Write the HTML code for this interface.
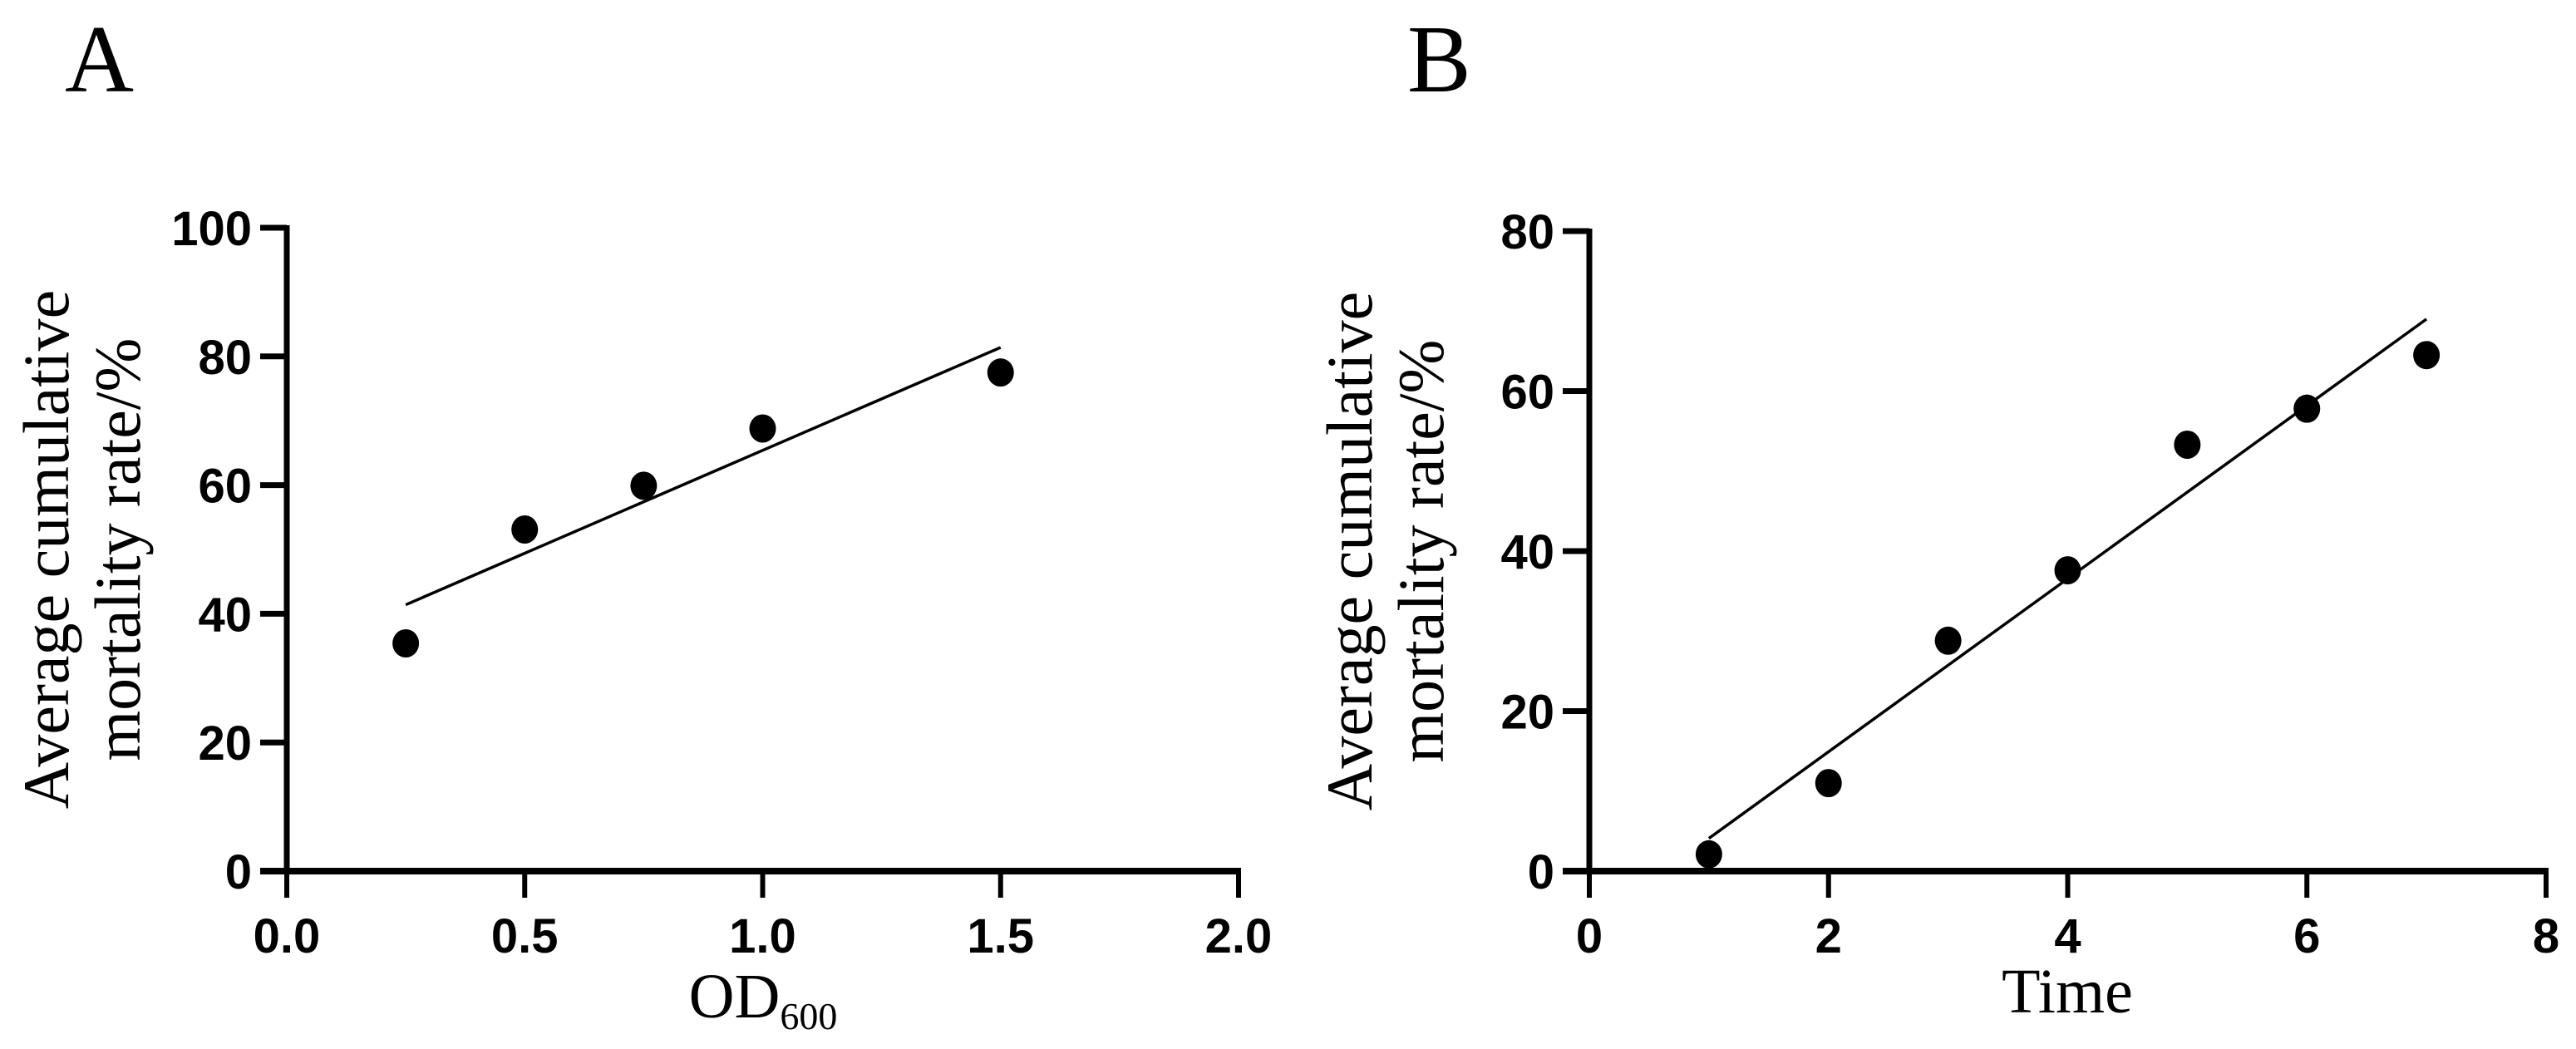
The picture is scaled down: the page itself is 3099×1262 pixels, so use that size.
<!DOCTYPE html>
<html><head><meta charset="utf-8">
<style>
html,body{margin:0;padding:0;background:#fff;}
svg{display:block;}
.tick{font-family:"Liberation Sans",sans-serif;font-weight:bold;font-size:58px;fill:#000;}
.serif{font-family:"Liberation Serif",serif;fill:#000;}
</style></head>
<body>
<svg id="fig" width="3099" height="1262" viewBox="0 0 3099 1262" xmlns="http://www.w3.org/2000/svg">
<text class="serif" x="78" y="110" font-size="115">A</text>
<text class="serif" x="1693" y="110" font-size="115">B</text>
</svg>
<script>
// Panel A data
const aX = [0.25, 0.5, 0.75, 1.0, 1.5];
const aY = [35.4, 53.1, 59.9, 68.8, 77.5];
const aFitX = [0.25, 1.5];
const aFitY = [41.4, 81.4];
const aXTicks = [0, 0.5, 1.0, 1.5, 2.0];
const aXTickLabels = ["0.0", "0.5", "1.0", "1.5", "2.0"];
const aYTicks = [0, 20, 40, 60, 80, 100];
const aYTickLabels = ["0", "20", "40", "60", "80", "100"];
// Panel B data
const bX = [1, 2, 3, 4, 5, 6, 7];
const bY = [2.1, 11.0, 28.8, 37.6, 53.3, 57.8, 64.5];
const bFitX = [1, 7];
const bFitY = [4.1, 69.0];
const bXTicks = [0, 2, 4, 6, 8];
const bXTickLabels = ["0", "2", "4", "6", "8"];
const bYTicks = [0, 20, 40, 60, 80];
const bYTickLabels = ["0", "20", "40", "60", "80"];

const NS = "http://www.w3.org/2000/svg";
const svg = document.getElementById("fig");
function mk(tag, attrs, parent) {
  const e = document.createElementNS(NS, tag);
  for (const k in attrs) e.setAttribute(k, attrs[k]);
  (parent || svg).appendChild(e);
  return e;
}

function panel(p) {
  const g = mk("g", {});
  
  
  const sx = v => p.x0 + (v - p.xmin) / (p.xmax - p.xmin) * (p.x1 - p.x0);
  const sy = v => p.y0 - (v - p.ymin) / (p.ymax - p.ymin) * (p.y0 - p.y1);
  const ya = mk("line", {x1: p.x0, y1: p.y0 + 4, x2: p.x0, y2: p.y1 - 3, stroke: "#000", "stroke-width": 7}, g);
  
  
  const xa = mk("line", {x1: p.x0 - 32, y1: p.y0, x2: p.x1 + 3, y2: p.y0, stroke: "#000", "stroke-width": 8}, g);
  
  
  p.yTicks.forEach((v, i) => {
    const y = sy(v);
    const t = mk("line", {x1: p.x0 - 32, y1: y, x2: p.x0, y2: y, stroke: "#000", "stroke-width": 7}, g);
    
    
    const l = mk("text", {x: p.x0 - 42, y: y + 21, "text-anchor": "end", class: "tick"}, g);
    l.textContent = p.yLabels[i];
    
    
  });
  p.xTicks.forEach((v, i) => {
    const x = sx(v);
    const t = mk("line", {x1: x, y1: p.y0, x2: x, y2: p.y0 + 32, stroke: "#000", "stroke-width": 6}, g);
    
    
    const l = mk("text", {x: x, y: p.y0 + 98, "text-anchor": "middle", class: "tick"}, g);
    l.textContent = p.xLabels[i];
    
    
  });
  const fl = mk("line", {x1: sx(p.fx[0]), y1: sy(p.fy[0]), x2: sx(p.fx[1]), y2: sy(p.fy[1]), stroke: "#000", "stroke-width": 3.5}, g);
  
  
  p.xs.forEach((v, i) => {
    const c = mk("ellipse", {cx: sx(v), cy: sy(p.ys[i]), rx: 16, ry: 17, fill: "#000"}, g);
    
    
  });
  const cy = (p.y0 + p.y1) / 2;
  const t1 = mk("text", {x: 0, y: 0, "text-anchor": "middle", class: "serif", "font-size": 78,
    transform: "translate(" + p.tx1 + "," + cy + ") rotate(-90)"}, g);
  t1.textContent = "Average cumulative";
  
  
  const t2 = mk("text", {x: 0, y: 0, "text-anchor": "middle", class: "serif", "font-size": 78,
    transform: "translate(" + p.tx2 + "," + cy + ") rotate(-90)"}, g);
  t2.textContent = "mortality rate/%";
  
  
  return {sx, sy, g};
}

const A = panel({name: "panel-a-chart", x0: 345, x1: 1490, y0: 1048, y1: 274, xmin: 0, xmax: 2, ymin: 0, ymax: 100,
  xs: aX, ys: aY, fx: aFitX, fy: aFitY, xTicks: aXTicks, xLabels: aXTickLabels, yTicks: aYTicks, yLabels: aYTickLabels,
  tx1: 82, tx2: 168});
const B = panel({name: "panel-b-chart", x0: 1912, x1: 3063, y0: 1048, y1: 278, xmin: 0, xmax: 8, ymin: 0, ymax: 80,
  xs: bX, ys: bY, fx: bFitX, fy: bFitY, xTicks: bXTicks, xLabels: bXTickLabels, yTicks: bYTicks, yLabels: bYTickLabels,
  tx1: 1650, tx2: 1736});

const od = mk("text", {x: 918, y: 1224, "text-anchor": "middle", class: "serif", "font-size": 76});


od.appendChild(document.createTextNode("OD"));
const sub = mk("tspan", {"font-size": 46, dy: 14}, od);
sub.textContent = "600";
const tm = mk("text", {x: 2487, y: 1218, "text-anchor": "middle", class: "serif", "font-size": 76});
tm.textContent = "Time";


</script>
</body></html>
